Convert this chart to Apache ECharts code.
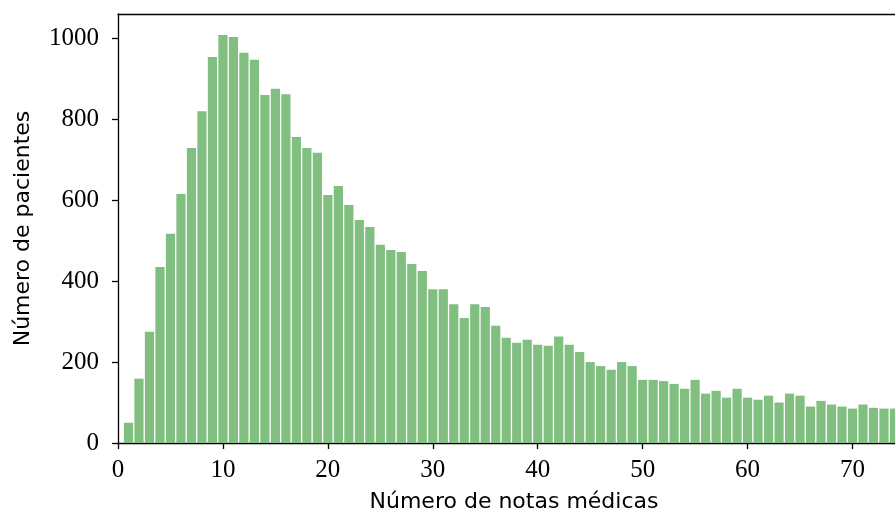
<!DOCTYPE html>
<html>
<head>
<meta charset="utf-8">
<script src="https://cdn.jsdelivr.net/npm/echarts@6/dist/echarts.min.js"></script>
<style>html,body{margin:0;padding:0;background:#fff}#c{width:895px;height:519px}</style>
</head>
<body>
<div id="c"></div>
<script>
const notes = [];
for (let i = 1; i <= 74; i++) notes.push(i);
const patients = [50,159,275,435,517,615,729,820,954,1008,1003,964,947,860,875,862,756,729,717,613,
  635,588,551,534,490,477,472,442,425,380,380,343,309,343,336,290,260,248,255,243,
  240,263,243,225,200,190,181,200,190,156,156,153,146,134,156,122,129,112,134,112,
  107,117,100,122,117,90,104,95,90,85,95,87,85,85];
const yTicks = [0,200,400,600,800,1000];
const xTicks = [0,10,20,30,40,50,60,70];

const chart = echarts.init(document.getElementById('c'), null, {renderer:'canvas'});
const serif = 'Liberation Serif';
const sans = 'DejaVu Sans';
const line = {show:true,lineStyle:{color:'#000',width:1.3}};
chart.setOption({
  animation:false,
  grid:{left:118,top:14,right:0,bottom:76,show:false},
  xAxis:[{type:'value',min:0,max:74.05,interval:10,
    name:'Número de notas médicas',nameLocation:'middle',nameGap:48,
    nameTextStyle:{fontFamily:sans,fontSize:22,color:'#000',padding:[0,0,0,15]},
    axisLine:line,
    axisTick:{show:true,inside:false,length:6,customValues:xTicks,lineStyle:{color:'#000',width:1.3}},
    axisLabel:{fontFamily:serif,fontSize:25,color:'#000',margin:15,customValues:xTicks,formatter:v=>String(v)},
    splitLine:{show:false}},
   {type:'value',position:'top',min:0,max:74.05,axisLine:line,axisTick:{show:false},axisLabel:{show:false},splitLine:{show:false}}],
  yAxis:{type:'value',min:0,max:1060,interval:200,
    name:'Número de pacientes',nameLocation:'middle',nameGap:84,
    nameTextStyle:{fontFamily:sans,fontSize:22,color:'#000'},
    axisLine:line,
    axisTick:{show:true,inside:false,length:6,customValues:yTicks,lineStyle:{color:'#000',width:1.3}},
    axisLabel:{fontFamily:serif,fontSize:25,color:'#000',margin:19,customValues:yTicks,formatter:v=>String(v)},
    splitLine:{show:false}},
  series:[{type:'bar',barWidth:9.2,xAxisIndex:0,
    data:notes.map((n,i)=>[n,patients[i]]),
    itemStyle:{color:'#80bf80'}}]
});
</script>
</body>
</html>
